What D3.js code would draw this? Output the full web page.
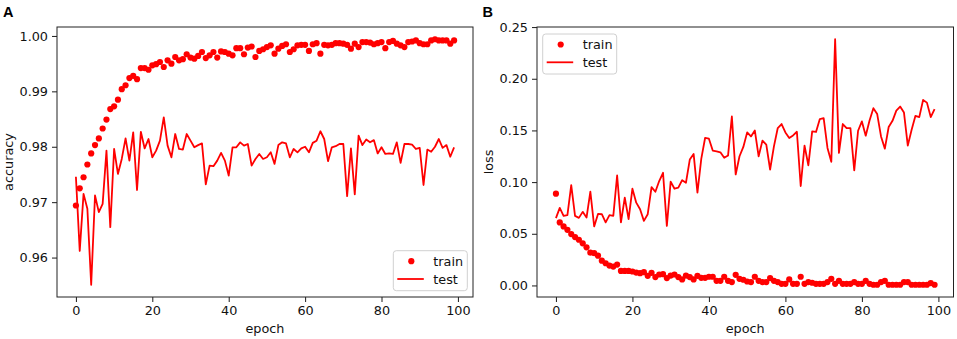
<!DOCTYPE html>
<html>
<head>
<meta charset="utf-8">
<script src="https://cdn.jsdelivr.net/npm/d3@7"></script>
<style>
  body { margin: 0; background: #fff; }
  svg { display: block; }
</style>
</head>
<body>
<script>
// values, one per epoch (0..99)
const accTrain = [
  0.9694, 0.9725, 0.9745, 0.9768, 0.9788, 0.9803, 0.9815, 0.9833, 0.9849, 0.9868,
  0.9873, 0.9885, 0.9904, 0.9911, 0.9924, 0.9928, 0.9922, 0.9942, 0.9942, 0.9939,
  0.9947, 0.9949, 0.9953, 0.9944, 0.9956, 0.9950, 0.9962, 0.9956, 0.9958, 0.9967,
  0.9961, 0.9959, 0.9964, 0.9971, 0.9960, 0.9965, 0.9971, 0.9961, 0.9972, 0.9971,
  0.9968, 0.9965, 0.9978, 0.9978, 0.9967, 0.9979, 0.9981, 0.9962, 0.9973, 0.9976,
  0.9980, 0.9983, 0.9968, 0.9977, 0.9982, 0.9985, 0.9971, 0.9976, 0.9983, 0.9984,
  0.9984, 0.9973, 0.9985, 0.9987, 0.9968, 0.9984, 0.9983, 0.9984, 0.9987, 0.9987,
  0.9986, 0.9984, 0.9977, 0.9986, 0.9980, 0.9989, 0.9989, 0.9988, 0.9985, 0.9987,
  0.9989, 0.9978, 0.9989, 0.9991, 0.9986, 0.9983, 0.9980, 0.9989, 0.9990, 0.9992,
  0.9987, 0.9985, 0.9985, 0.9992, 0.9994, 0.9992, 0.9992, 0.9992, 0.9986, 0.9992
];
const accTest = [
  0.9746, 0.9612, 0.9715, 0.9688, 0.9551, 0.9712, 0.9682, 0.9697, 0.9793, 0.9655,
  0.9796, 0.9751, 0.9778, 0.9815, 0.9775, 0.9826, 0.9722, 0.9827, 0.9797, 0.9814,
  0.9781, 0.9793, 0.9811, 0.9853, 0.9802, 0.9781, 0.9823, 0.9796, 0.9795, 0.9823,
  0.9811, 0.9799, 0.9803, 0.9806, 0.9732, 0.9766, 0.9765, 0.9775, 0.9789, 0.9775,
  0.9748, 0.9799, 0.9799, 0.9808, 0.9802, 0.9805, 0.9766, 0.9778, 0.9787, 0.9778,
  0.9781, 0.9790, 0.9769, 0.9803, 0.9808, 0.9806, 0.9781, 0.9796, 0.9790, 0.9797,
  0.9800, 0.9790, 0.9807, 0.9811, 0.9828, 0.9814, 0.9774, 0.9799, 0.9801, 0.9805,
  0.9805, 0.9711, 0.9797, 0.9714, 0.9820, 0.9803, 0.9813, 0.9808, 0.9812, 0.9788,
  0.9799, 0.9787, 0.9788, 0.9787, 0.9808, 0.9771, 0.9805, 0.9805, 0.9804, 0.9796,
  0.9798, 0.9731, 0.9795, 0.9791, 0.9800, 0.9814, 0.9798, 0.9803, 0.9782, 0.9799
];
const lossTrain = [
  0.0888, 0.0610, 0.0571, 0.0538, 0.0497, 0.0468, 0.0442, 0.0408, 0.0369, 0.0317,
  0.0312, 0.0288, 0.0240, 0.0215, 0.0192, 0.0183, 0.0202, 0.0141, 0.0141, 0.0141,
  0.0135, 0.0125, 0.0119, 0.0128, 0.0093, 0.0122, 0.0081, 0.0106, 0.0109, 0.0071,
  0.0096, 0.0106, 0.0081, 0.0058, 0.0096, 0.0081, 0.0058, 0.0093, 0.0074, 0.0074,
  0.0084, 0.0084, 0.0045, 0.0045, 0.0084, 0.0045, 0.0033, 0.0103, 0.0064, 0.0055,
  0.0038, 0.0033, 0.0084, 0.0045, 0.0033, 0.0033, 0.0071, 0.0045, 0.0033, 0.0016,
  0.0016, 0.0058, 0.0016, 0.0016, 0.0084, 0.0016, 0.0033, 0.0026, 0.0016, 0.0016,
  0.0016, 0.0033, 0.0064, 0.0016, 0.0045, 0.0016, 0.0016, 0.0016, 0.0033, 0.0016,
  0.0016, 0.0045, 0.0016, 0.0007, 0.0007, 0.0033, 0.0045, 0.0007, 0.0007, 0.0007,
  0.0007, 0.0033, 0.0033, 0.0007, 0.0007, 0.0007, 0.0007, 0.0007, 0.0023, 0.0007
];
const lossTest = [
  0.0651, 0.0750, 0.0673, 0.0680, 0.0971, 0.0673, 0.0654, 0.0712, 0.0657, 0.0907,
  0.0571, 0.0692, 0.0689, 0.0610, 0.0680, 0.0673, 0.1064, 0.0610, 0.0850, 0.0641,
  0.0936, 0.0801, 0.0737, 0.0625, 0.0689, 0.0952, 0.0907, 0.1010, 0.1090, 0.0577,
  0.1004, 0.0936, 0.0946, 0.1019, 0.0994, 0.1218, 0.1273, 0.0898, 0.1225, 0.1427,
  0.1420, 0.1305, 0.1298, 0.1288, 0.1235, 0.1257, 0.1635, 0.1074, 0.1250, 0.1340,
  0.1481, 0.1442, 0.1500, 0.1250, 0.1401, 0.1362, 0.1122, 0.1346, 0.1523, 0.1562,
  0.1481, 0.1427, 0.1452, 0.1487, 0.0962, 0.1353, 0.1163, 0.1490, 0.1485, 0.1610,
  0.1619, 0.1331, 0.1196, 0.2382, 0.1283, 0.1562, 0.1523, 0.1523, 0.1113, 0.1497,
  0.1587, 0.1449, 0.1596, 0.1715, 0.1658, 0.1442, 0.1324, 0.1533, 0.1593, 0.1692,
  0.1731, 0.1673, 0.1353, 0.1507, 0.1641, 0.1629, 0.1795, 0.1769, 0.1629, 0.1706
];

const xTicks = [0, 20, 40, 60, 80, 100];
const accTicks = [0.96, 0.97, 0.98, 0.99, 1.00];
const lossTicks = [0.00, 0.05, 0.10, 0.15, 0.20, 0.25];
const legendNames = ["train", "test"];

const W = 957, H = 339;
const FONT = "DejaVu Sans";
const FS = 12.8;
const RED = "#ff0000";

const svg = d3.select("body").append("svg")
  .attr("width", W)
  .attr("height", H)
  .style("background-color", "#fff");

// matplotlib style 5% padding
function padded(vals) {
  const [lo, hi] = d3.extent(vals);
  const m = (hi - lo) * 0.05;
  return [lo - m, hi + m];
}

function styleAxis(g) {
  g.select(".domain").remove();
  g.selectAll(".tick line").attr("stroke", "#000").attr("stroke-width", 0.9);
  g.selectAll(".tick text")
    .attr("font-family", FONT)
    .attr("font-size", FS)
    .attr("fill", "#111");
}

function panel(o) {
  const n = o.train.length;
  const top = 27, bottom = 297;

  const x = d3.scaleLinear()
    .domain([-(n - 1) * 0.05, (n - 1) * 1.05])
    .range([o.left, o.right]);
  const y = d3.scaleLinear()
    .domain(padded(o.train.concat(o.test)))
    .range([bottom, top]);

  const gx = svg.append("g")
    .attr("transform", "translate(0," + bottom + ")")
    .call(d3.axisBottom(x).tickValues(xTicks).tickSize(5).tickPadding(4).tickFormat(d3.format("d")));
  styleAxis(gx);

  const gy = svg.append("g")
    .attr("transform", "translate(" + o.left + ",0)")
    .call(d3.axisLeft(y).tickValues(o.yTicks).tickSize(5).tickPadding(4).tickFormat(d3.format(".2f")));
  styleAxis(gy);

  // train dots first, test line on top
  svg.append("g").selectAll("circle")
    .data(o.train)
    .enter()
      .append("circle")
        .attr("cx", (d, i) => x(i))
        .attr("cy", d => y(d))
        .attr("r", 3.1)
        .attr("fill", RED);

  svg.append("path")
    .datum(o.test)
    .attr("fill", "none")
    .attr("stroke", RED)
    .attr("stroke-width", 1.8)
    .attr("stroke-linejoin", "round")
    .attr("d", d3.line().x((d, i) => x(i)).y(d => y(d)));

  // frame
  svg.append("rect")
    .attr("x", o.left)
    .attr("y", top)
    .attr("width", o.right - o.left)
    .attr("height", bottom - top)
    .attr("fill", "none")
    .attr("stroke", "#222")
    .attr("stroke-width", 1);

  // axis titles
  svg.append("text")
    .attr("x", (o.left + o.right) / 2)
    .attr("y", 333)
    .attr("text-anchor", "middle")
    .attr("font-family", FONT)
    .attr("font-size", FS)
    .attr("fill", "#111")
    .text("epoch");

  svg.append("text")
    .attr("text-anchor", "middle")
    .attr("font-family", FONT)
    .attr("font-size", FS)
    .attr("fill", "#111")
    .attr("transform", "translate(" + o.ylabX + "," + ((top + bottom) / 2) + ") rotate(-90)")
    .text(o.ylabel);

  svg.append("text")
    .attr("x", o.letterX)
    .attr("y", 17)
    .attr("font-family", "Liberation Sans, Arial, sans-serif")
    .attr("font-weight", "bold")
    .attr("font-size", 14.5)
    .attr("fill", "#000")
    .text(o.letter);

  // legend
  const lw = 74, lh = 40;
  const lx = o.legendPos == "lower right" ? o.right - 5.7 - lw : o.left + 5.7;
  const ly = o.legendPos == "lower right" ? bottom - 6.3 - lh : top + 7;
  const lg = svg.append("g").attr("transform", "translate(" + lx + "," + ly + ")");
  lg.append("rect")
    .attr("width", lw)
    .attr("height", lh)
    .attr("rx", 3)
    .attr("fill", "#fff")
    .attr("fill-opacity", 0.8)
    .attr("stroke", "#d0d0d0")
    .attr("stroke-width", 1);
  lg.append("circle").attr("cx", 18).attr("cy", 10.5).attr("r", 3.1).attr("fill", RED);
  lg.append("line")
    .attr("x1", 4).attr("x2", 30.5)
    .attr("y1", 28.3).attr("y2", 28.3)
    .attr("stroke", RED).attr("stroke-width", 1.8);
  lg.selectAll("text.lab")
    .data(legendNames)
    .enter()
      .append("text")
        .attr("class", "lab")
        .attr("x", 40)
        .attr("y", (d, i) => 15 + i * 18)
        .attr("font-family", FONT)
        .attr("font-size", FS)
        .attr("fill", "#111")
        .text(d => d);
}

panel({
  train: accTrain, test: accTest, yTicks: accTicks,
  left: 57, right: 473, ylabel: "accuracy", ylabX: 12.5,
  letter: "A", letterX: 3, legendPos: "lower right"
});

panel({
  train: lossTrain, test: lossTest, yTicks: lossTicks,
  left: 537, right: 953.5, ylabel: "loss", ylabX: 493,
  letter: "B", letterX: 482.5, legendPos: "upper left"
});
</script>
</body>
</html>
